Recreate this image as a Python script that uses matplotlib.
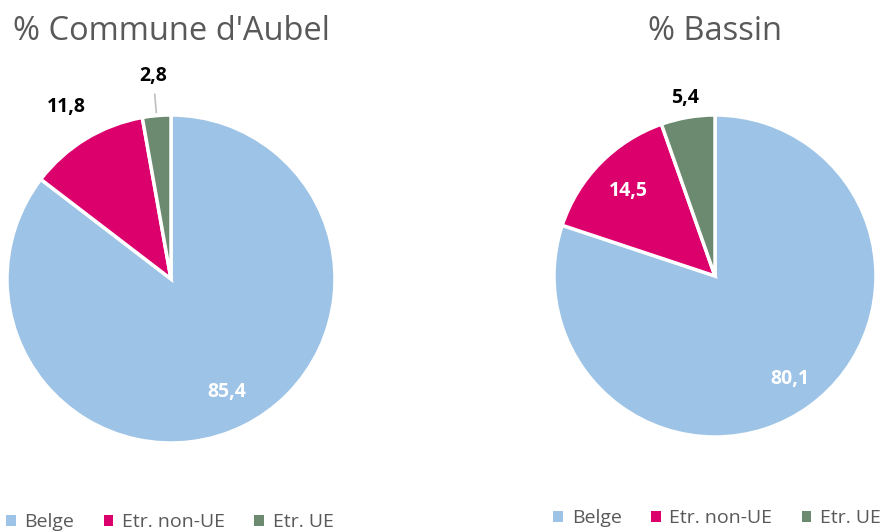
import numpy as np
import matplotlib.pyplot as plt
from matplotlib.patches import Patch

plt.rcParams['font.family'] = ['Open Sans', 'DejaVu Sans']

categories = ['Belge', 'Etr. non-UE', 'Etr. UE']
aubel = [85.4, 11.8, 2.8]
bassin = [80.1, 14.5, 5.4]
colors = ['#9DC3E6', '#DC006C', '#6B8A6F']
titles = ["% Commune d'Aubel", "% Bassin"]

# label style per wedge: (distance from centre, colour)
label_aubel = [(0.77, 'white'), (1.23, 'black'), (1.24, 'black')]
label_bassin = [(0.79, 'white'), (0.75, 'white'), (1.12, 'black')]

fig = plt.figure(figsize=(8.9, 5.32), dpi=100)
W, H = 890, 532


def draw_pie(rect, values, title, lab, title_y, leader=None):
    ax = fig.add_axes(rect)
    wedges, _ = ax.pie(values, colors=colors, startangle=90, counterclock=False,
                       wedgeprops=dict(edgecolor='white', linewidth=2.5))
    ax.set_aspect('equal')
    ax.set_xlim(-1, 1)
    ax.set_ylim(-1, 1)
    for w, v, (d, c) in zip(wedges, values, lab):
        ang = np.deg2rad((w.theta1 + w.theta2) / 2)
        x, y = d * np.cos(ang), d * np.sin(ang)
        ax.text(x, y, f"{v:.1f}".replace('.', ','), ha='center', va='center',
                color=c, fontsize=14, fontweight='bold')
        if leader is not None and w is wedges[leader]:
            ax.plot([1.02 * np.cos(ang), 1.13 * np.cos(ang)],
                    [1.02 * np.sin(ang), 1.13 * np.sin(ang)],
                    color='#BFBFBF', lw=1.2, clip_on=False)
    fig.text((rect[0] + rect[2] / 2), title_y, title, ha='center', va='center',
             fontsize=23.5, color='#595959')
    return ax


draw_pie([7 / W, 89 / H, 328 / W, 328 / H], aubel, titles[0], label_aubel,
         1 - 31 / H, leader=2)
draw_pie([554 / W, 95 / H, 322 / W, 322 / H], bassin, titles[1], label_bassin,
         1 - 31 / H)

handles = [Patch(facecolor=c, edgecolor='none') for c in colors]
for x0, y0 in [(-0.002, 1 - 522 / H), (0.613, 1 - 518 / H)]:
    fig.legend(handles, categories, loc='center left', bbox_to_anchor=(x0, y0),
               ncol=3, frameon=False, fontsize=14, handlelength=0.5,
               handleheight=0.5, handletextpad=0.45, columnspacing=1.5,
               labelcolor='#595959', borderaxespad=0)

fig.savefig('out.png', dpi=100)
